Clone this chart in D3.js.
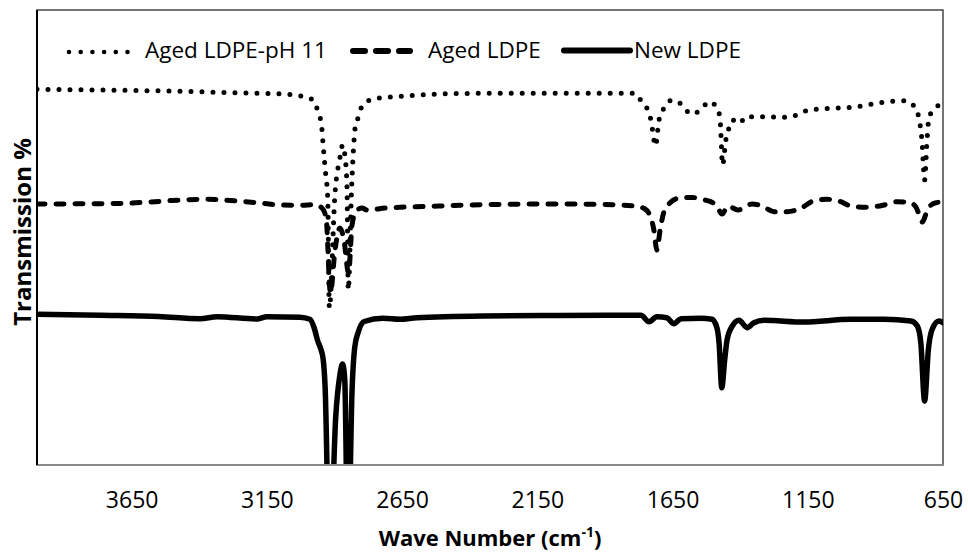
<!DOCTYPE html>
<html>
<head>
<meta charset="utf-8">
<script src="https://cdn.jsdelivr.net/npm/d3@7"></script>
<style>
  body { margin: 0; background: #fff; }
  svg { display: block; }
  text { font-family: "Open Sans", "Noto Sans", sans-serif; fill: #000; }
</style>
</head>
<body>
<svg id="chart" width="968" height="552"></svg>
<script>
// FTIR spectra, [wave number (cm-1), transmission (offset, a.u.)]
const seriesNames = ["Aged LDPE-pH 11", "Aged LDPE", "New LDPE"];
const xTicks = [3650, 3150, 2650, 2150, 1650, 1150, 650];

const agedPh11 = [
  [4000, 75.14], [3767, 75.0], [3519, 74.8], [3275, 74.46], [3090, 74.2],
  [3016, 73.66], [2980, 73.0], [2961, 70.66], [2948, 68.0], [2942, 64.0],
  [2933, 58.4], [2925, 53.4], [2919, 31.4], [2898, 54.4], [2880, 61.4],
  [2870, 64.0], [2861, 61.6], [2854, 56.0], [2849, 35.0], [2837, 55.0],
  [2830, 63.0], [2824, 67.34], [2812, 69.54], [2799, 71.66], [2762, 73.14],
  [2720, 73.46], [2362, 74.34], [1789, 74.34], [1768, 73.0], [1743, 71.14],
  [1730, 69.0], [1713, 63.8], [1700, 69.0], [1682, 71.34], [1651, 73.0],
  [1614, 72.0], [1583, 70.2], [1546, 71.0], [1515, 72.66], [1484, 71.34],
  [1474, 69.0], [1465, 60.0], [1453, 65.0], [1441, 67.46], [1429, 69.0],
  [1411, 68.66], [1401, 68.34], [1380, 69.66], [1312, 69.66], [1232, 69.54],
  [1189, 70.0], [1145, 71.0], [1059, 71.34], [967, 71.66], [880, 72.46],
  [792, 72.86], [757, 71.8], [739, 69.34], [728, 65.0], [718, 57.0],
  [709, 65.0], [702, 69.34], [677, 71.54], [650, 72.2]
];

const agedLdpe = [
  [4000, 52.2], [3704, 52.3], [3582, 52.6], [3501, 52.9], [3379, 53.14],
  [3286, 52.9], [3194, 52.5], [3101, 52.0], [3028, 51.94], [2972, 52.06],
  [2946, 51.4], [2931, 49.4], [2915, 34.4], [2898, 43.0], [2880, 47.4],
  [2865, 45.0], [2848, 38.4], [2835, 48.0], [2820, 50.8], [2798, 51.4],
  [2780, 51.0], [2710, 51.4], [2562, 51.7], [2399, 52.0], [2103, 52.2],
  [1907, 52.1], [1789, 51.8], [1752, 51.2], [1733, 49.8], [1719, 47.0],
  [1708, 43.0], [1696, 47.0], [1682, 50.6], [1660, 52.4], [1623, 53.4],
  [1578, 53.5], [1530, 53.0], [1489, 52.0], [1467, 50.2], [1445, 51.8],
  [1408, 51.0], [1356, 52.2], [1319, 51.8], [1275, 50.66], [1226, 50.66],
  [1176, 51.34], [1127, 52.86], [1078, 53.14], [1028, 52.66], [991, 51.8],
  [930, 51.54], [868, 52.0], [819, 52.66], [776, 52.54], [751, 51.66],
  [739, 50.2], [726, 48.6], [713, 50.2], [698, 51.8], [676, 52.46], [650, 52.6]
];

const newLdpe = [
  [4000, 30.14], [3767, 29.94], [3550, 29.7], [3397, 29.26], [3334, 29.66],
  [3187, 29.2], [3150, 29.66], [3028, 29.54], [2991, 29.14], [2975, 27.4],
  [2962, 24.8], [2952, 23.4], [2942, 21.2], [2935, 16.0], [2918, -19.0],
  [2895, 10.0], [2880, 18.0], [2870, 20.2], [2862, 17.0], [2850, -19.0],
  [2835, 15.0], [2825, 23.6], [2812, 26.6], [2790, 28.7], [2721, 29.34],
  [2658, 29.14], [2595, 29.46], [2347, 29.8], [2066, 29.9], [1767, 29.94],
  [1737, 28.66], [1708, 29.66], [1671, 29.46], [1645, 28.26], [1619, 29.26],
  [1545, 29.34], [1504, 29.14], [1486, 27.46], [1478, 24.46], [1468, 15.46],
  [1457, 21.14], [1448, 25.14], [1429, 27.8], [1404, 28.94], [1374, 27.46],
  [1349, 28.46], [1312, 28.94], [1164, 28.6], [991, 29.14], [868, 29.14],
  [769, 28.8], [745, 27.8], [732, 24.46], [718, 12.8], [704, 23.14],
  [690, 27.14], [665, 28.8], [650, 28.46]
];

const svg = d3.select("#chart");
const plot = { left: 37, right: 943, top: 10, bottom: 465 };

const x = d3.scaleLinear().domain([4000, 650]).range([plot.left, plot.right]);
const y = d3.scaleLinear().domain([0, 91]).range([plot.bottom, plot.top]);

svg.append("defs").append("clipPath").attr("id", "plot-clip")
  .append("rect")
  .attr("x", plot.left).attr("y", plot.top)
  .attr("width", plot.right - plot.left).attr("height", plot.bottom - plot.top);

// plot area frame
svg.append("rect")
  .attr("x", plot.left).attr("y", plot.top)
  .attr("width", plot.right - plot.left).attr("height", plot.bottom - plot.top)
  .attr("fill", "none").attr("stroke", "#3a3a3a").attr("stroke-width", 1.4);

const line = d3.line()
  .x(d => x(d[0]))
  .y(d => y(d[1]))
  .curve(d3.curveMonotoneX);

const styles = [
  { data: agedPh11, width: 5, dash: "0 11" },
  { data: agedLdpe, width: 5, dash: "8 11" },
  { data: newLdpe, width: 5.5, dash: null }
];

const lines = svg.append("g").attr("clip-path", "url(#plot-clip)");
styles.forEach(s => {
  lines.append("path")
    .datum(s.data)
    .attr("d", line)
    .attr("fill", "none")
    .attr("stroke", "#000")
    .attr("stroke-width", s.width)
    .attr("stroke-linecap", "round")
    .attr("stroke-linejoin", "round")
    .attr("stroke-dasharray", s.dash);
});

// axes
svg.append("line")
  .attr("x1", plot.left).attr("x2", plot.right)
  .attr("y1", plot.bottom).attr("y2", plot.bottom)
  .attr("stroke", "#8a8a8a").attr("stroke-width", 2);
svg.append("line")
  .attr("x1", plot.left).attr("x2", plot.left)
  .attr("y1", plot.top).attr("y2", plot.bottom)
  .attr("stroke", "#000").attr("stroke-width", 2);

const xAxis = svg.append("g")
  .attr("transform", `translate(0,${plot.bottom})`)
  .call(d3.axisBottom(x).tickValues(xTicks).tickSize(0).tickFormat(d3.format("d")));
xAxis.select(".domain").remove();
xAxis.selectAll("text")
  .attr("y", 43).attr("dy", 0)
  .style("font-family", "'Open Sans', sans-serif")
  .style("font-size", "23px")
  .attr("fill", "#000");

// axis titles
const xTitle = svg.append("text")
  .attr("x", (plot.left + plot.right) / 2).attr("y", 546)
  .attr("text-anchor", "middle")
  .style("font-size", "22px").style("font-weight", "bold");
xTitle.append("tspan").text("Wave Number (cm");
xTitle.append("tspan").text("-1").style("font-size", "14px").attr("dy", -9);
xTitle.append("tspan").text(")").attr("dy", 9);

svg.append("text")
  .attr("transform", "translate(31,232) rotate(-90)")
  .attr("text-anchor", "middle")
  .style("font-size", "24px").style("font-weight", "bold")
  .text("Transmission %");

// legend
const legendItems = [
  { name: seriesNames[0], x1: 69, x2: 128, yy: 52, width: 4.6, dash: "0 11.7", tx: 145 },
  { name: seriesNames[1], x1: 353, x2: 410, yy: 51, width: 6, dash: "12 11", tx: 428 },
  { name: seriesNames[2], x1: 564, x2: 630, yy: 50.5, width: 6, dash: null, tx: 634 }
];
const legend = svg.append("g");
legendItems.forEach(it => {
  legend.append("line")
    .attr("x1", it.x1).attr("x2", it.x2)
    .attr("y1", it.yy).attr("y2", it.yy)
    .attr("stroke", "#000").attr("stroke-width", it.width)
    .attr("stroke-linecap", "round")
    .attr("stroke-dasharray", it.dash);
  legend.append("text")
    .attr("x", it.tx).attr("y", 58)
    .style("font-size", "22.5px")
    .text(it.name);
});
</script>
</body>
</html>
